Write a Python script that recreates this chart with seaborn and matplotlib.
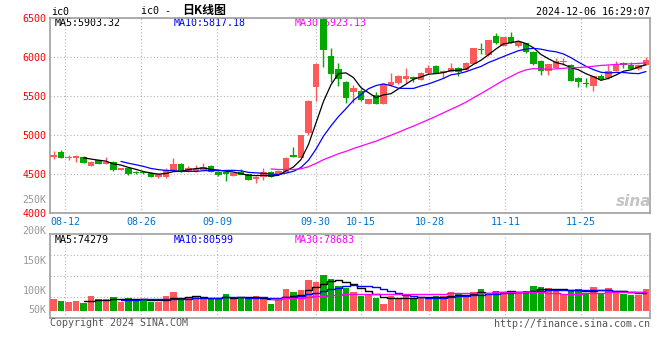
import numpy as np
import pandas as pd
import matplotlib
matplotlib.use("Agg")
import matplotlib.pyplot as plt
import seaborn as sns

# ---------------- data ----------------
opens = [4715, 4780, 4705, 4712, 4722, 4607, 4680, 4633, 4660, 4552,
         4572, 4528, 4520, 4520, 4462, 4456, 4540, 4625, 4527, 4533,
         4552, 4607, 4530, 4525, 4475, 4530, 4495, 4437, 4466, 4530,
         4505, 4530, 4745, 4710, 5023, 5622, 6490, 6020, 5855, 5686,
         5550, 5567, 5403, 5515, 5403, 5644, 5665, 5720, 5746, 5710,
         5800, 5892, 5794, 5810, 5862, 5836, 5913, 6095, 6029, 6277,
         6148, 6264, 6148, 6179, 6071, 5952, 5827, 5866, 5943, 5905,
         5737, 5665, 5631, 5759, 5730, 5827, 5931, 5900, 5849, 5900]
highs = [4795, 4810, 4740, 4740, 4735, 4668, 4685, 4723, 4665, 4578,
         4578, 4535, 4540, 4525, 4518, 4582, 4710, 4638, 4607, 4616,
         4638, 4612, 4535, 4530, 4520, 4561, 4500, 4472, 4574, 4535,
         4548, 4715, 4850, 5005, 5445, 5920, 6500, 6115, 5922, 5690,
         5644, 5590, 5470, 5550, 5660, 5794, 5770, 5858, 5763, 5805,
         5900, 5900, 5835, 5922, 5870, 5935, 6120, 6187, 6225, 6315,
         6260, 6328, 6200, 6185, 6080, 5960, 5915, 5994, 5986, 5910,
         5745, 5730, 5765, 5790, 5895, 5952, 5935, 5935, 5910, 6007]
lows = [4690, 4700, 4675, 4655, 4638, 4605, 4630, 4625, 4545, 4548,
        4488, 4500, 4500, 4460, 4453, 4450, 4535, 4522, 4522, 4530,
        4548, 4525, 4475, 4405, 4470, 4525, 4425, 4381, 4424, 4460,
        4500, 4525, 4715, 4705, 5002, 5438, 5879, 5686, 5635, 5409,
        5409, 5440, 5398, 5400, 5400, 5631, 5660, 5665, 5686, 5705,
        5785, 5795, 5737, 5805, 5759, 5830, 5908, 6042, 6020, 6175,
        6145, 6180, 6128, 6055, 5905, 5772, 5772, 5860, 5900, 5690,
        5622, 5622, 5570, 5705, 5725, 5820, 5858, 5845, 5840, 5895]
closes = [4745, 4702, 4722, 4736, 4642, 4660, 4633, 4659, 4555, 4572,
          4507, 4508, 4515, 4466, 4497, 4552, 4629, 4527, 4582, 4561,
          4595, 4530, 4488, 4505, 4510, 4488, 4430, 4466, 4523, 4466,
          4535, 4710, 4720, 5000, 5438, 5913, 6097, 5785, 5720, 5481,
          5609, 5451, 5464, 5403, 5656, 5686, 5763, 5763, 5720, 5800,
          5864, 5802, 5827, 5862, 5810, 5930, 6115, 6088, 6221, 6179,
          6256, 6187, 6192, 6063, 5909, 5827, 5909, 5952, 5948, 5699,
          5686, 5657, 5759, 5720, 5823, 5900, 5900, 5849, 5900, 5964]
volumes = [49500, 41250, 37125, 41250, 34375, 61875, 49500, 49500, 57750, 38500,
           53625, 49500, 44000, 38500, 37125, 61875, 78375, 52250, 52250, 56375,
           49500, 53625, 53625, 70125, 49500, 53625, 53625, 61875, 57750, 28875,
           44000, 90750, 78375, 86625, 127875, 119625, 148500, 132000, 103125, 96250,
           78375, 61875, 66000, 53625, 28875, 61875, 53625, 61875, 53625, 57750,
           57750, 61875, 61875, 78375, 74250, 61875, 78375, 90750, 74250, 82500,
           74250, 82500, 78375, 82500, 103125, 99000, 94875, 82500, 70125, 86625,
           90750, 74250, 99000, 74250, 94875, 78375, 70125, 66000, 66000, 90750]

tick_index = [2, 12, 22, 35, 41, 50, 60, 70]
tick_labels = ["08-12", "08-26", "09-09", "09-30", "10-15", "10-28", "11-11", "11-25"]
price_ticks = [4000, 4500, 5000, 5500, 6000, 6500]
price_tick_labels = ["4000", "4500", "5000", "5500", "6000", "6500"]
vol_axis_labels = ["250K", "200K", "150K", "100K", "50K"]
ma_windows = [5, 10, 30]
ma_colors = ["#000000", "#0000ff", "#ff00ff"]
price_ma_text = ["MA5:5903.32", "MA10:5817.18", "MA30:5923.13"]
vol_ma_text = ["MA5:74279", "MA10:80599", "MA30:78683"]

# ---------------- style ----------------
sns.set_theme(style="white")
plt.rcParams["font.family"] = ["DejaVu Sans Mono", "Noto Sans CJK SC"]

RED = "#ff5a5a"
GREEN = "#00a800"
GRID = "#b4b4b4"
BORDER = "#a0a0a0"
FS = 7.2

W, H = 660, 360
fig = plt.figure(figsize=(6.6, 3.6), dpi=100)
fig.patch.set_facecolor("white")

def fx(px):
    return px / W

def fy(py):
    return 1 - py / H

ax = fig.add_axes([fx(50), fy(213), 599.5 / W, 194.7 / H])
axv = fig.add_axes([fx(50), fy(318.3), 599.5 / W, 84 / H])

n = len(closes)
x = np.arange(n)
o = np.array(opens, float)
c = np.array(closes, float)
hi = np.array(highs, float)
lo = np.array(lows, float)
vol = np.array(volumes, float)
up = c >= o
colors = np.where(up, RED, GREEN)

xl, xr = -0.467, 79.47
tick_pos = xl + np.array(tick_index) * (xr - xl) / (n - 1)

# ---------------- price panel ----------------
ax.vlines(x, lo, hi, colors=colors, lw=1.0, zorder=3)
body_bottom = np.minimum(o, c)
body_h = np.maximum(np.abs(c - o), 13)
ax.bar(x, body_h, bottom=body_bottom, width=0.82, color=colors, linewidth=0, zorder=3)

df = pd.DataFrame({"i": x, "close": c, "vol": vol})
for w, col in zip(ma_windows, ma_colors):
    ma = df["close"].rolling(w).mean()
    sns.lineplot(x=df["i"], y=ma, ax=ax, color=col, lw=0.9, zorder=4)

ax.set_xlim(xl, xr)
ax.set_ylim(4000, 6500)
ax.set_xticks(tick_pos)
ax.set_xticklabels(tick_labels, color="#0072cc", fontsize=FS)
ax.set_yticks(price_ticks)
ax.set_yticklabels(price_tick_labels, color="#ff0000", fontsize=FS)
ax.tick_params(axis="both", length=0)
ax.tick_params(axis="x", pad=3.2)
ax.tick_params(axis="y", pad=2.6)
ax.set_xlabel("")
ax.set_ylabel("")
ax.grid(True, color=GRID, linestyle=(0, (1, 2)), lw=0.8)
ax.set_axisbelow(True)

for t, px, col in zip(price_ma_text, [55, 174, 294.3], ma_colors):
    ax.text(fx(px), fy(23.5), t, transform=fig.transFigure, color=col,
            fontsize=FS, va="center", ha="left", zorder=2, clip_on=False)

# ---------------- volume panel ----------------
axv.bar(x, vol, width=0.82, color=colors, linewidth=0, zorder=3)
for w, col in zip(ma_windows, ma_colors):
    vma = df["vol"].rolling(w).mean()
    sns.lineplot(x=df["i"], y=vma, ax=axv, color=col, lw=1.0, zorder=4,
                 drawstyle="steps-mid")

vlo, vhi = -30100, 316400
axv.set_xlim(xl, xr)
axv.set_ylim(vlo, vhi)
axv.set_xticks(tick_pos)
axv.set_xticklabels([])
axv.set_yticks([vlo + k * (vhi - vlo) / 4 for k in (1, 2, 3)])
axv.set_yticklabels([])
axv.tick_params(axis="both", length=0)
axv.set_xlabel("")
axv.set_ylabel("")
axv.grid(True, color=GRID, linestyle=(0, (1, 2)), lw=0.8)
axv.set_axisbelow(True)

for t, px, col in zip(vol_ma_text, [55, 174, 294.3], ma_colors):
    axv.text(fx(px), fy(240), t, transform=fig.transFigure, color=col,
             fontsize=FS, va="center", ha="left", zorder=2, clip_on=False)

for lab, py in zip(vol_axis_labels, [200, 231, 261, 291, 310.3]):
    fig.text(fx(46.5), fy(py), lab, color="#999999", fontsize=FS,
             ha="right", va="center")

for a in (ax, axv):
    for s in a.spines.values():
        s.set_color(BORDER)
        s.set_linewidth(1.2)
    a.set_facecolor("white")

# ---------------- header / footer ----------------
fig.text(fx(51), fy(12), "ic0", fontsize=FS, color="#000000", va="center", ha="left")
fig.text(fx(140.7), fy(10.5), "ic0 -", fontsize=FS, color="#000000", va="center", ha="left")
fig.text(fx(182), fy(10.5), "日K线图", fontsize=8.6, color="#000000", va="center",
         ha="left", family=["Noto Sans CJK SC", "DejaVu Sans"], fontweight="bold")
fig.text(fx(649.5), fy(12), "2024-12-06 16:29:07", fontsize=FS, color="#000000",
         va="center", ha="right")
fig.text(fx(50), fy(323.5), "Copyright 2024 SINA.COM", fontsize=FS, color="#555555",
         va="center", ha="left")
fig.text(fx(650), fy(324), "http://finance.sina.com.cn", fontsize=FS, color="#555555",
         va="center", ha="right")
fig.text(fx(634), fy(202), "sina", fontsize=11, color="#c4c4c4", style="italic",
         fontweight="bold", family=["DejaVu Sans"], va="center", ha="center")

fig.savefig("out.png", dpi=100, facecolor="white")
